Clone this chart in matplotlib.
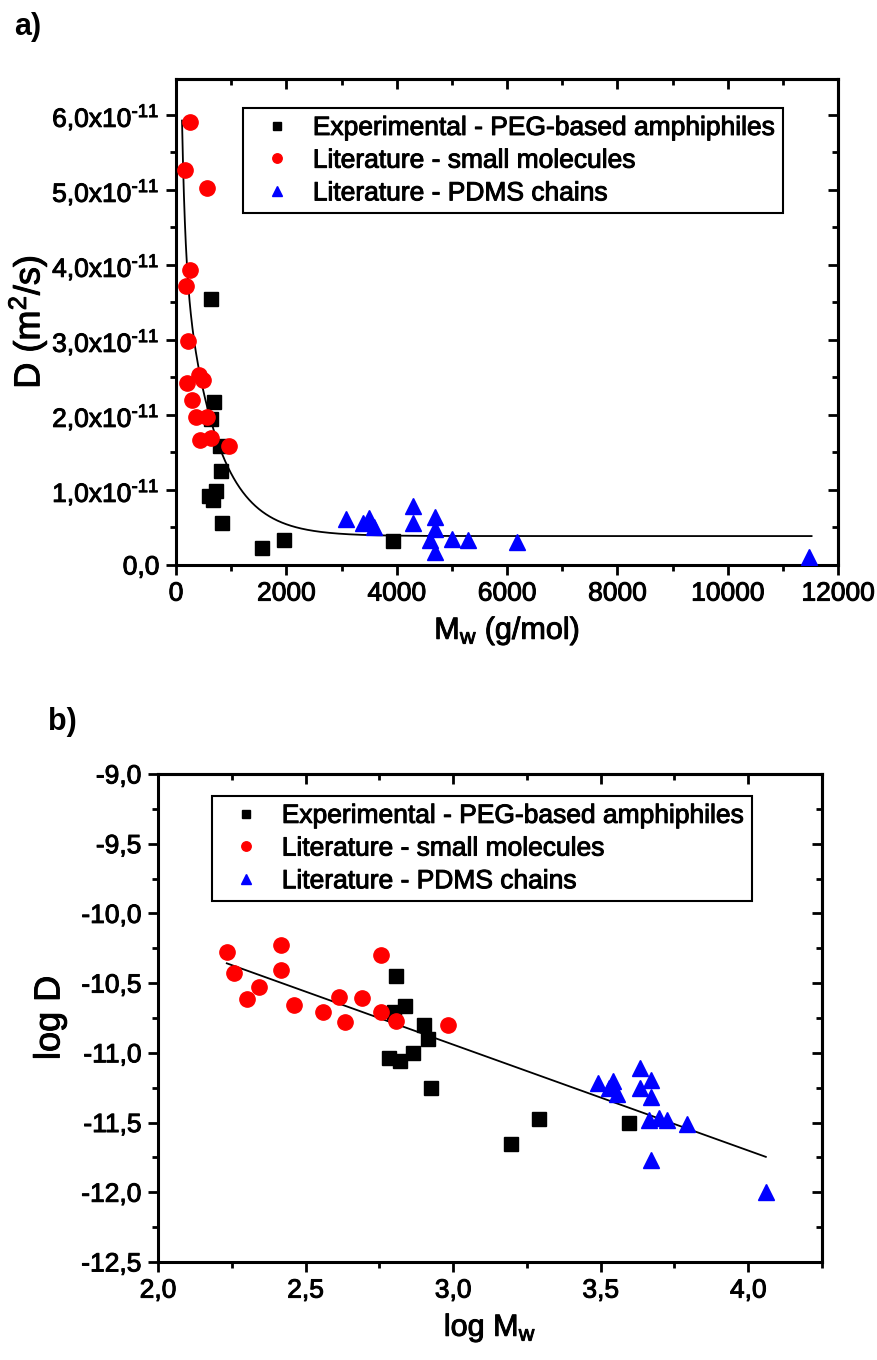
import matplotlib
matplotlib.use("Agg")
import matplotlib.pyplot as plt
import matplotlib.patheffects as pe
import numpy as np
from matplotlib.lines import Line2D
from matplotlib.text import Text
from matplotlib.ticker import MultipleLocator, FuncFormatter

plt.rcParams['font.family'] = ['Liberation Sans', 'DejaVu Sans']
plt.rcParams['mathtext.fontset'] = 'custom'
plt.rcParams['mathtext.rm'] = 'Liberation Sans'
plt.rcParams['axes.unicode_minus'] = False

# data: molar mass (g/mol) and diffusion coefficient (x1e-11 m2/s)
peg_M = [638, 688, 630, 798, 823, 733, 606, 663, 842, 1565, 1960, 3940]
peg_D = [3.55, 2.17, 1.95, 1.59, 1.25, 0.99, 0.925, 0.87, 0.56, 0.22, 0.335, 0.315]

small_M = [171, 181, 200, 220, 261, 261, 290, 361, 411, 431, 490, 570, 570, 640, 959]
small_D = [5.26, 3.72, 2.42, 2.98, 5.90, 3.93, 2.20, 1.97, 2.53, 1.66, 2.46, 5.02, 1.97, 1.69, 1.58]

pdms_M = [3090, 3385, 3490, 3592, 4300, 4300, 4695, 4695, 4600, 4695, 5000, 5290, 6185, 11470]
pdms_D = [0.61, 0.56, 0.63, 0.51, 0.78, 0.56, 0.64, 0.48, 0.33, 0.17, 0.34, 0.33, 0.31, 0.10]

labels = ["Experimental - PEG-based amphiphiles",
          "Literature - small molecules",
          "Literature - PDMS chains"]

# fit parameters
# a) D = y0 + A1 exp(-M/t1) + A2 exp(-M/t2)   (x1e-11)
fit_y0, fit_A1, fit_t1, fit_A2, fit_t2 = 0.385, 10.8, 62.0, 4.41, 600.0
fit_Mmin, fit_Mmax = 109, 11520
# b) log D = a + b log M
lin_a, lin_b = -8.661, -0.760

peg_M, peg_D = np.array(peg_M), np.array(peg_D) * 1e-11
small_M, small_D = np.array(small_M), np.array(small_D) * 1e-11
pdms_M, pdms_D = np.array(pdms_M), np.array(pdms_D) * 1e-11

FS = 19
fig = plt.figure(figsize=(8.77, 13.6), dpi=100)
axa = fig.add_axes([0.2007, 0.5846, 0.7549, 0.3574])
axb = fig.add_axes([0.1802, 0.0721, 0.7571, 0.3588])

mk = dict(linestyle='none')
sq = dict(marker='s', color='black', markersize=10)
ci = dict(marker='o', color='red', markersize=11)
tr = dict(marker='^', color='blue', markersize=11)


def style(ax, xmaj, xmin, ymaj, ymin):
    for s in ax.spines.values():
        s.set_linewidth(2.2)
    ax.tick_params(which='both', direction='out', width=2, labelsize=FS, pad=5)
    ax.tick_params(which='major', length=7)
    ax.tick_params(which='minor', length=4)
    top = ax.secondary_xaxis('top')
    right = ax.secondary_yaxis('right')
    for sec, a, maj, mnr in ((top, top.xaxis, xmaj, xmin), (right, right.yaxis, ymaj, ymin)):
        a.set_major_locator(MultipleLocator(maj))
        a.set_minor_locator(MultipleLocator(mnr))
        sec.tick_params(which='both', direction='in', width=2,
                        labeltop=False, labelright=False)
        sec.tick_params(which='major', length=7)
        sec.tick_params(which='minor', length=4)
        for s in sec.spines.values():
            s.set_linewidth(2.2)
    ax.xaxis.set_major_locator(MultipleLocator(xmaj))
    ax.xaxis.set_minor_locator(MultipleLocator(xmin))
    ax.yaxis.set_major_locator(MultipleLocator(ymaj))
    ax.yaxis.set_minor_locator(MultipleLocator(ymin))


def legend(ax, x, y):
    hs = [Line2D([], [], marker='s', color='black', markersize=6, **mk),
          Line2D([], [], marker='o', color='red', markersize=6.8, **mk),
          Line2D([], [], marker='^', color='blue', markersize=7.5, **mk)]
    lg = ax.legend(hs, labels, loc='upper left', bbox_to_anchor=(x, y), fontsize=FS,
                   frameon=True, fancybox=False, framealpha=1, edgecolor='black',
                   labelspacing=0.33, handlelength=2.0, handletextpad=0.35,
                   borderpad=0.3, borderaxespad=0)
    lg.get_frame().set_linewidth(1.5)
    lg.set_zorder(5)


# ---- a)
Mfit = np.linspace(fit_Mmin, fit_Mmax, 2000)
Dfit = (fit_y0 + fit_A1 * np.exp(-Mfit / fit_t1) + fit_A2 * np.exp(-Mfit / fit_t2)) * 1e-11
axa.plot(Mfit, Dfit, color='black', lw=1.3, zorder=2)
axa.plot(peg_M, peg_D, **sq, **mk, zorder=3)
axa.plot(small_M, small_D, **ci, **mk, zorder=3)
axa.plot(pdms_M, pdms_D, **tr, **mk, zorder=3)
axa.set_xlim(0, 12000)
axa.set_ylim(0, 6.48e-11)
style(axa, 2000, 1000, 1e-11, 0.5e-11)


def sci(v, p):
    m = v / 1e-11
    if abs(m) < 1e-6:
        return "0,0"
    return ("%.1f" % m).replace('.', ',') + r"x10$\mathregular{^{\text{-}11}}$"


axa.yaxis.set_major_formatter(FuncFormatter(sci))
axa.xaxis.set_major_formatter(FuncFormatter(lambda v, p: "%d" % v))
axa.set_xlabel(r"M$\mathregular{_w}$ (g/mol)", fontsize=22, labelpad=6)
axa.set_ylabel(r"D (m$\mathregular{^2}$/s)", fontsize=26, labelpad=2)
legend(axa, 0.101, 0.940)

# ---- b)
xl = np.log10([min(small_M.min(), peg_M.min(), pdms_M.min()),
               max(small_M.max(), peg_M.max(), pdms_M.max())])
axb.plot(xl, lin_a + lin_b * xl, color='black', lw=1.3, zorder=2)
axb.plot(np.log10(peg_M), np.log10(peg_D), **sq, **mk, zorder=3)
axb.plot(np.log10(small_M), np.log10(small_D), **ci, **mk, zorder=3)
axb.plot(np.log10(pdms_M), np.log10(pdms_D), **tr, **mk, zorder=3)
axb.set_xlim(2.0, 4.25)
axb.set_ylim(-12.5, -9.0)
style(axb, 0.5, 0.25, 0.5, 0.25)
comma = FuncFormatter(lambda v, p: ("%.1f" % v).replace('.', ','))
axb.xaxis.set_major_formatter(comma)
axb.yaxis.set_major_formatter(comma)
axb.set_xlabel(r"log M$\mathregular{_w}$", fontsize=22, labelpad=6)
axb.set_ylabel("log D", fontsize=26, labelpad=10)
legend(axb, 0.081, 0.955)

fig.text(14 / 877, 1 - 27 / 1360, "a)", fontsize=22, fontweight='bold', va='center', ha='left')
fig.text(48 / 877, 1 - 722 / 1360, "b)", fontsize=22, fontweight='bold', va='center', ha='left')

# the original text is drawn a little heavier than Liberation regular
fig.canvas.draw()
for t in fig.findobj(Text):
    if t.get_fontweight() not in ('bold', 700):
        t.set_path_effects([pe.withStroke(linewidth=0.7, foreground=t.get_color())])

fig.savefig("out.png", dpi=100)
